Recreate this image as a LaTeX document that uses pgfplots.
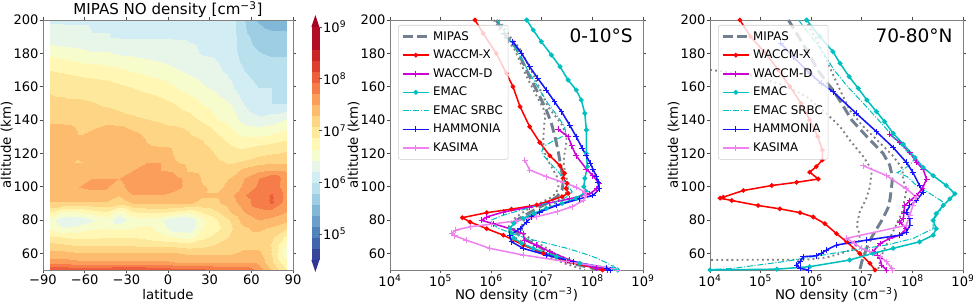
\documentclass[border=0pt]{standalone}
\usepackage{pgfplots}
\pgfplotsset{compat=1.18}
\usepackage{fontspec}
\setmainfont{DejaVu Sans}
\definecolor{mipas}{RGB}{112,128,144}
\definecolor{triTop}{RGB}{165,0,38}
\definecolor{triBot}{RGB}{49,54,149}
\definecolor{colWD}{RGB}{205,0,215}
\definecolor{colEM}{RGB}{0,191,191}
\definecolor{colHA}{RGB}{20,20,255}
\definecolor{colKA}{RGB}{238,130,238}
\pgfplotsset{
  /pgf/number format/assume math mode=true,
  colormap={rdylbu}{rgb255=(54,70,157) rgb255=(64,101,172) rgb255=(81,131,187) rgb255=(105,159,202) rgb255=(130,184,215) rgb255=(157,206,227) rgb255=(184,224,237) rgb255=(211,237,244) rgb255=(232,246,234) rgb255=(247,252,205) rgb255=(255,247,179) rgb255=(254,232,156) rgb255=(254,212,133) rgb255=(253,187,109) rgb255=(251,158,90) rgb255=(246,125,74) rgb255=(237,94,60) rgb255=(222,62,46) rgb255=(203,36,39) rgb255=(178,12,38) rgb255=(178,12,38)},
  common/.style={
    scale only axis, anchor=south west,
    tick align=outside, major tick length=2.6pt, minor tick num=0,
    tick style={black!70, line width=0.5pt},
    axis line style={black!50},
    tick label style={font=\fontsize{9.8}{11}\selectfont, inner sep=0.6pt},
    label style={font=\fontsize{9.3}{11}\selectfont},
    every axis y label/.style={at={([xshift=-22.5pt]rel axis cs:0,0.5)}, rotate=90, anchor=south, inner sep=0pt},
    every axis x label/.style={at={([yshift=-22.3pt]rel axis cs:0.5,0)}, anchor=base, inner sep=0pt},
    ymin=50, ymax=200, ytick={60,80,...,200},
  },
  lineax/.style={
    common, width=189.75pt, height=187.5pt,
    xmin=4, xmax=9, xtick={4,5,6,7,8,9},
    xticklabels={10\textsuperscript{4},10\textsuperscript{5},10\textsuperscript{6},10\textsuperscript{7},10\textsuperscript{8},10\textsuperscript{9}},
    xlabel={NO density (cm\textsuperscript{−3})}, ylabel={altitude (km)},
    legend cell align=left,
    legend style={at={(0.032,0.98)}, anchor=north west, draw=black!20, rounded corners=1.5pt,
      fill=white, fill opacity=0.8, text opacity=1, draw opacity=1,
      font=\fontsize{8.9}{10}\selectfont, inner xsep=2pt, inner ysep=2.5pt, row sep=1.8pt},
    legend image code/.code={\draw[mark repeat=2,mark phase=2,#1] plot coordinates {(0cm,0cm) (0.35cm,0cm) (0.7cm,0cm)};},
  },
  styMIPAS/.style={mipas, line width=2.2pt, dash pattern=on 7.5pt off 3.5pt},
  styMIPASdot/.style={forget plot, gray, line width=1.4pt, dash pattern=on 1.4pt off 2.4pt},
  styWACCMX/.style={color=red, line width=1.15pt, mark=*, mark size=1.1pt},
  styWACCMD/.style={color=colWD, line width=1.15pt, mark=+, mark size=2.2pt, mark options={solid, line width=0.7pt}},
  styEMAC/.style={color=colEM, line width=1.15pt, mark=*, mark size=1.2pt},
  styEMACS/.style={color=colEM, line width=0.75pt, dash pattern=on 4.5pt off 1.3pt on 0.8pt off 1.3pt},
  styHAMMONIA/.style={color=colHA, line width=1.15pt, mark=+, mark size=2.2pt, mark options={solid, line width=0.7pt}},
  styKASIMA/.style={color=colKA, line width=1.15pt, mark=+, mark size=2.2pt, mark options={solid, line width=0.7pt}},
}
\begin{document}
\begin{tikzpicture}
\path[use as bounding box] (0,0) rectangle (729.75pt,230.25pt);
% ---------------- panel 1: contour ----------------
\begin{axis}[common, at={(32.25pt,27.75pt)}, width=187.5pt, height=187.5pt,
  xmin=-90, xmax=90, xtick={-90,-60,...,90}, xticklabels={−90,−60,−30,0,30,60,90},
  axis on top,
  colormap name=rdylbu, colormap access=piecewise constant,
  point meta min=4.5, point meta max=9,
  xlabel={latitude}, ylabel={altitude (km)},
  colorbar,
  colorbar style={at={(parent axis.north east)}, anchor=north west, xshift=5.25pt, yshift=-5.25pt,
    scale only axis, width=6pt, height=174.75pt,
    ytick={5,6,7,8,9},
    yticklabels={10\textsuperscript{5},10\textsuperscript{6},10\textsuperscript{7},10\textsuperscript{8},10\textsuperscript{9}},
    ytick pos=right, tick align=outside, major tick length=2pt,
    axis line style={draw=none}, clip mode=individual,
    after end axis/.code={
      \fill[triTop] (rel axis cs:0,1) -- (rel axis cs:1,1) -- ([yshift=9pt]rel axis cs:0.5,1) -- cycle;
      \fill[triBot] (rel axis cs:0,0) -- (rel axis cs:1,0) -- ([yshift=-9pt]rel axis cs:0.5,0) -- cycle;
    }},
  clip mode=individual,
]
\addplot[surf, shader=interp, mesh/cols=18, point meta=explicit] coordinates {
(-85,200)[6.2] (-75,200)[6.2] (-65,200)[6.2] (-55,200)[6.2] (-45,200)[6.2] (-35,200)[6.2] (-25,200)[6.2] (-15,200)[6.2] (-5,200)[6.2] (5,200)[6.2] (15,200)[6.2] (25,200)[6.1] (35,200)[6.2] (45,200)[6.1] (55,200)[5.8] (65,200)[5.55] (75,200)[5.45] (85,200)[5.45]
(-85,190)[6.27] (-75,190)[6.25] (-65,190)[6.25] (-55,190)[6.22] (-45,190)[6.22] (-35,190)[6.2] (-25,190)[6.2] (-15,190)[6.2] (-5,190)[6.2] (5,190)[6.2] (15,190)[6.2] (25,190)[6.18] (35,190)[6.15] (45,190)[6.1] (55,190)[5.85] (65,190)[5.7] (75,190)[5.65] (85,190)[5.65]
(-85,180)[6.6] (-75,180)[6.55] (-65,180)[6.5] (-55,180)[6.45] (-45,180)[6.45] (-35,180)[6.4] (-25,180)[6.38] (-15,180)[6.35] (-5,180)[6.32] (5,180)[6.28] (15,180)[6.25] (25,180)[6.2] (35,180)[6.18] (45,180)[6.1] (55,180)[5.9] (65,180)[5.8] (75,180)[5.75] (85,180)[5.75]
(-85,170)[6.85] (-75,170)[6.82] (-65,170)[6.78] (-55,170)[6.75] (-45,170)[6.72] (-35,170)[6.68] (-25,170)[6.62] (-15,170)[6.57] (-5,170)[6.52] (5,170)[6.45] (15,170)[6.38] (25,170)[6.32] (35,170)[6.25] (45,170)[6.15] (55,170)[6.0] (65,170)[5.95] (75,170)[5.95] (85,170)[5.95]
(-85,160)[7.05] (-75,160)[7.03] (-65,160)[7.0] (-55,160)[6.98] (-45,160)[6.95] (-35,160)[6.9] (-25,160)[6.85] (-15,160)[6.8] (-5,160)[6.75] (5,160)[6.65] (15,160)[6.55] (25,160)[6.45] (35,160)[6.37] (45,160)[6.25] (55,160)[6.05] (65,160)[6.0] (75,160)[6.0] (85,160)[6.0]
(-85,150)[7.1] (-75,150)[7.1] (-65,150)[7.1] (-55,150)[7.08] (-45,150)[7.05] (-35,150)[7.03] (-25,150)[7.0] (-15,150)[6.97] (-5,150)[6.92] (5,150)[6.85] (15,150)[6.75] (25,150)[6.62] (35,150)[6.52] (45,150)[6.42] (55,150)[6.2] (65,150)[6.05] (75,150)[6.0] (85,150)[6.0]
(-85,140)[7.15] (-75,140)[7.15] (-65,140)[7.15] (-55,140)[7.15] (-45,140)[7.15] (-35,140)[7.12] (-25,140)[7.1] (-15,140)[7.08] (-5,140)[7.05] (5,140)[7.0] (15,140)[6.95] (25,140)[6.82] (35,140)[6.65] (45,140)[6.55] (55,140)[6.35] (65,140)[6.28] (75,140)[6.35] (85,140)[6.45]
(-85,135)[7.45] (-75,135)[7.42] (-65,135)[7.25] (-55,135)[7.25] (-45,135)[7.4] (-35,135)[7.35] (-25,135)[7.25] (-15,135)[7.15] (-5,135)[7.12] (5,135)[7.1] (15,135)[7.05] (25,135)[6.95] (35,135)[6.8] (45,135)[6.65] (55,135)[6.5] (65,135)[6.45] (75,135)[6.5] (85,135)[6.6]
(-85,130)[7.5] (-75,130)[7.5] (-65,130)[7.3] (-55,130)[7.45] (-45,130)[7.5] (-35,130)[7.5] (-25,130)[7.4] (-15,130)[7.25] (-5,130)[7.2] (5,130)[7.15] (15,130)[7.1] (25,130)[7.05] (35,130)[6.9] (45,130)[6.75] (55,130)[6.65] (65,130)[6.65] (75,130)[6.72] (85,130)[6.8]
(-85,125)[7.5] (-75,125)[7.5] (-65,125)[7.3] (-55,125)[7.45] (-45,125)[7.5] (-35,125)[7.5] (-25,125)[7.45] (-15,125)[7.3] (-5,125)[7.25] (5,125)[7.2] (15,125)[7.15] (25,125)[7.1] (35,125)[7.0] (45,125)[6.85] (55,125)[6.8] (65,125)[6.85] (75,125)[6.9] (85,125)[6.95]
(-85,120)[7.45] (-75,120)[7.5] (-65,120)[7.3] (-55,120)[7.35] (-45,120)[7.45] (-35,120)[7.5] (-25,120)[7.5] (-15,120)[7.45] (-5,120)[7.5] (5,120)[7.25] (15,120)[7.2] (25,120)[7.15] (35,120)[7.05] (45,120)[6.95] (55,120)[6.95] (65,120)[7.0] (75,120)[7.05] (85,120)[7.1]
(-85,115)[7.3] (-75,115)[7.3] (-65,115)[7.28] (-55,115)[7.3] (-45,115)[7.35] (-35,115)[7.45] (-25,115)[7.5] (-15,115)[7.5] (-5,115)[7.5] (5,115)[7.3] (15,115)[7.22] (25,115)[7.2] (35,115)[7.1] (45,115)[7.05] (55,115)[7.1] (65,115)[7.2] (75,115)[7.25] (85,115)[7.25]
(-85,110)[7.38] (-75,110)[7.38] (-65,110)[7.38] (-55,110)[7.38] (-45,110)[7.38] (-35,110)[7.4] (-25,110)[7.5] (-15,110)[7.55] (-5,110)[7.5] (5,110)[7.45] (15,110)[7.25] (25,110)[7.2] (35,110)[7.15] (45,110)[7.15] (55,110)[7.35] (65,110)[7.45] (75,110)[7.5] (85,110)[7.45]
(-85,105)[7.5] (-75,105)[7.5] (-65,105)[7.5] (-55,105)[7.5] (-45,105)[7.5] (-35,105)[7.5] (-25,105)[7.7] (-15,105)[7.7] (-5,105)[7.7] (5,105)[7.55] (15,105)[7.45] (25,105)[7.25] (35,105)[7.2] (45,105)[7.3] (55,105)[7.5] (65,105)[7.7] (75,105)[7.9] (85,105)[7.6]
(-85,100)[7.5] (-75,100)[7.5] (-65,100)[7.5] (-55,100)[7.52] (-45,100)[7.52] (-35,100)[7.4] (-25,100)[7.65] (-15,100)[7.7] (-5,100)[7.7] (5,100)[7.55] (15,100)[7.45] (25,100)[7.3] (35,100)[7.25] (45,100)[7.35] (55,100)[7.55] (65,100)[7.75] (75,100)[7.85] (85,100)[7.6]
(-85,95)[7.45] (-75,95)[7.45] (-65,95)[7.45] (-55,95)[7.45] (-45,95)[7.45] (-35,95)[7.3] (-25,95)[7.5] (-15,95)[7.5] (-5,95)[7.5] (5,95)[7.45] (15,95)[7.4] (25,95)[7.3] (35,95)[7.3] (45,95)[7.45] (55,95)[7.7] (65,95)[7.85] (75,95)[7.95] (85,95)[7.65]
(-85,90)[7.25] (-75,90)[7.25] (-65,90)[7.25] (-55,90)[7.25] (-45,90)[7.25] (-35,90)[7.15] (-25,90)[7.3] (-15,90)[7.3] (-5,90)[7.3] (5,90)[7.3] (15,90)[7.3] (25,90)[7.25] (35,90)[7.25] (45,90)[7.4] (55,90)[7.6] (65,90)[7.85] (75,90)[7.95] (85,90)[7.6]
(-85,85)[6.85] (-75,85)[6.6] (-65,85)[6.65] (-55,85)[6.75] (-45,85)[6.85] (-35,85)[6.5] (-25,85)[6.85] (-15,85)[6.9] (-5,85)[6.9] (5,85)[6.8] (15,85)[6.7] (25,85)[6.9] (35,85)[7.05] (45,85)[7.3] (55,85)[7.5] (65,85)[7.6] (75,85)[7.6] (85,85)[7.5]
(-85,80)[6.55] (-75,80)[6.25] (-65,80)[6.25] (-55,80)[6.4] (-45,80)[6.55] (-35,80)[6.28] (-25,80)[6.5] (-15,80)[6.55] (-5,80)[6.45] (5,80)[6.22] (15,80)[6.25] (25,80)[6.6] (35,80)[6.85] (45,80)[7.1] (55,80)[7.4] (65,80)[7.5] (75,80)[7.45] (85,80)[7.35]
(-85,75)[6.6] (-75,75)[6.45] (-65,75)[6.5] (-55,75)[6.6] (-45,75)[6.65] (-35,75)[6.6] (-25,75)[6.65] (-15,75)[6.7] (-5,75)[6.55] (5,75)[6.28] (15,75)[6.28] (25,75)[6.65] (35,75)[6.8] (45,75)[7.05] (55,75)[7.25] (65,75)[7.35] (75,75)[7.25] (85,75)[7.1]
(-85,70)[6.9] (-75,70)[6.85] (-65,70)[6.8] (-55,70)[6.8] (-45,70)[6.85] (-35,70)[6.85] (-25,70)[6.85] (-15,70)[6.8] (-5,70)[6.75] (5,70)[6.65] (15,70)[6.55] (25,70)[6.8] (35,70)[6.95] (45,70)[7.1] (55,70)[7.2] (65,70)[7.2] (75,70)[7.1] (85,70)[6.8]
(-85,65)[7.15] (-75,65)[7.1] (-65,65)[7.05] (-55,65)[7.05] (-45,65)[7.05] (-35,65)[7.05] (-25,65)[7.05] (-15,65)[7.0] (-5,65)[7.0] (5,65)[7.0] (15,65)[6.95] (25,65)[7.0] (35,65)[7.1] (45,65)[7.15] (55,65)[7.2] (65,65)[7.2] (75,65)[7.05] (85,65)[6.6]
(-85,60)[7.35] (-75,60)[7.35] (-65,60)[7.3] (-55,60)[7.3] (-45,60)[7.3] (-35,60)[7.3] (-25,60)[7.3] (-15,60)[7.3] (-5,60)[7.3] (5,60)[7.3] (15,60)[7.25] (25,60)[7.25] (35,60)[7.25] (45,60)[7.25] (55,60)[7.35] (65,60)[7.35] (75,60)[7.05] (85,60)[6.5]
(-85,55)[7.6] (-75,55)[7.6] (-65,55)[7.55] (-55,55)[7.55] (-45,55)[7.55] (-35,55)[7.55] (-25,55)[7.55] (-15,55)[7.55] (-5,55)[7.55] (5,55)[7.5] (15,55)[7.5] (25,55)[7.5] (35,55)[7.45] (45,55)[7.45] (55,55)[7.5] (65,55)[7.45] (75,55)[7.1] (85,55)[6.7]
(-85,50)[8.15] (-75,50)[8.15] (-65,50)[8.1] (-55,50)[8.15] (-45,50)[8.15] (-35,50)[8.2] (-25,50)[8.2] (-15,50)[8.15] (-5,50)[8.1] (5,50)[8.05] (15,50)[8.05] (25,50)[8.0] (35,50)[7.95] (45,50)[7.9] (55,50)[7.9] (65,50)[7.65] (75,50)[7.25] (85,50)[6.9]
};
\node[anchor=base, inner sep=0pt, font=\fontsize{11.3}{13}\selectfont] at ([yshift=3.9pt]rel axis cs:0.5,1) {MIPAS NO density [cm\textsuperscript{−3}]};
\end{axis}
% ---------------- panel 2: 0-10S ----------------
\begin{axis}[lineax, at={(292.5pt,27.75pt)}]
\addplot[styMIPASdot] coordinates {(6.15,200) (6.37,190) (6.56,183) (6.7,175) (6.85,166) (7.0,156) (7.12,148) (7.3,141) (7.4,137) (7.49,130) (7.48,125) (7.45,120) (7.43,115) (7.46,108) (7.52,102) (7.52,98) (7.42,94) (7.25,90) (7.0,86) (6.75,82) (6.62,79) (6.6,76) (6.62,73) (6.72,70) (6.85,67) (7.05,64) (7.25,60) (7.55,56) (7.85,53) (8.25,50)};
\addplot[styMIPASdot] coordinates {(6.05,200) (6.25,190) (6.45,183) (6.57,175) (6.7,166) (6.87,156) (7.03,147) (7.07,142) (7.05,138) (7.03,130) (7.03,125) (7.08,118) (7.19,112) (7.3,106) (7.33,100) (7.28,96) (7.15,93) (6.95,90) (6.7,86) (6.5,82) (6.4,79) (6.35,76) (6.35,73) (6.45,70) (6.6,67) (6.75,64) (7.0,60) (7.2,57) (7.45,54) (7.85,50)};
\addplot[styMIPAS] coordinates {(6.1,200) (6.3,190) (6.5,183) (6.62,175) (6.76,166) (6.93,156) (7.09,146) (7.19,138) (7.26,130) (7.32,122) (7.36,115) (7.40,108) (7.42,102) (7.40,98) (7.3,94) (7.1,90) (6.85,86) (6.62,82) (6.5,80) (6.45,77) (6.45,74) (6.55,71) (6.7,68) (6.89,65) (7.1,61) (7.36,57) (7.6,54) (8.0,51) (8.1,50)};
\addlegendentry{MIPAS}
\addplot[styWACCMX] coordinates {(5.68,200) (5.84,192) (6.1,180) (6.3,168) (6.43,160) (6.57,148) (6.76,136) (6.96,126.5) (7.16,118.5) (7.36,112.6) (7.45,108) (7.42,105) (7.5,102) (7.48,99) (7.52,96) (7.4,94) (6.9,89) (6.4,86.5) (5.91,84.4) (5.43,81.4) (5.58,78.8) (5.91,74.8) (6.24,70.9) (6.63,65) (7.03,60) (7.49,55) (8.08,51) (8.2,50)};
\addlegendentry{WACCM-X}
\addplot[styWACCMD] coordinates {(7.32,134.4) (7.52,130) (7.59,124.5) (7.68,118.5) (7.88,110.6) (8.01,106.6) (8.14,101.7) (8.08,98.7) (7.95,95.7) (7.55,92.7) (7.16,90.3) (6.76,87.7) (6.24,84.8) (5.91,81.8) (5.81,79.8) (6.04,77.8) (6.37,74.8) (6.63,71.8) (6.66,67.9) (6.89,65) (7.16,61) (7.55,56) (8.08,51) (8.3,50)};
\addlegendentry{WACCM-D}
\addplot[styEMAC] coordinates {(6.70,200) (6.83,194) (6.99,187) (7.19,179) (7.36,172) (7.52,164) (7.68,158) (7.78,152) (7.85,144) (7.88,134) (7.88,120) (7.9,112) (7.85,105) (7.83,100) (7.88,97) (7.68,93) (7.4,90) (7.09,87) (6.85,84) (6.63,81) (6.45,78) (6.37,75) (6.4,72) (6.45,69) (6.6,66) (6.83,63) (7.29,58) (7.75,54) (8.41,51) (8.5,50)};
\addlegendentry{EMAC}
\addplot[styEMACS] coordinates {(6.12,200) (6.32,190) (6.52,181) (6.72,170) (6.92,160) (7.12,150) (7.32,142) (7.45,136) (7.47,133) (7.4,130) (7.2,127) (7.03,124) (7.0,121) (7.05,118) (7.2,113) (7.35,108) (7.45,103) (7.55,99) (7.6,97) (7.5,94) (7.3,91) (6.96,89) (6.6,86) (6.25,83) (6.0,80) (6.0,78) (6.15,75) (6.4,72) (6.7,69) (7.1,66) (7.5,63) (7.82,60) (8.1,57) (8.3,54) (8.54,50)};
\addlegendentry{EMAC SRBC}
\addplot[styHAMMONIA] coordinates {(6.43,187) (6.6,180) (6.76,172) (6.92,165) (7.09,158) (7.25,151) (7.39,145) (7.55,137) (7.68,130) (7.8,123) (7.88,118.5) (7.96,114) (8.01,110.6) (8.08,106) (8.11,102.6) (8.14,98.7) (8.01,94.7) (7.75,92.7) (7.29,88.7) (6.96,84.8) (6.8,82) (6.7,78.8) (6.57,74.8) (6.37,70.9) (6.4,67) (6.63,63) (7.09,59) (7.62,55) (8.28,51) (8.35,50)};
\addlegendentry{HAMMONIA}
\addplot[styKASIMA] coordinates {(6.66,116) (6.76,110) (7.09,106) (7.42,102.6) (7.68,99.7) (7.85,96.7) (7.88,94.7) (7.82,91.7) (7.6,88) (7.3,85) (6.9,82) (6.5,79.5) (6.0,77.5) (5.6,76) (5.3,74) (5.22,72) (5.28,70.5) (5.51,67.9) (5.97,63) (6.63,59) (7.49,55) (8.41,51) (8.5,50)};
\addlegendentry{KASIMA}
\node[anchor=north east, inner sep=0pt, font=\fontsize{13.9}{16}\selectfont] at (rel axis cs:0.96,0.968) {0-10°S};
\end{axis}
% ---------------- panel 3: 70-80N ----------------
\begin{axis}[lineax, at={(532.5pt,27.75pt)}]
\addplot[styMIPASdot] coordinates {(5.88,200) (6.11,188) (6.3,176) (6.45,166) (6.6,156) (6.76,146) (7.0,137) (7.3,128) (7.6,119) (7.8,111) (7.82,104) (7.88,98) (7.85,93) (7.8,85) (7.68,77) (7.55,69) (7.42,61) (7.36,55) (7.32,50)};
\addplot[styMIPASdot] coordinates {(3.0,170.5) (4.03,170) (4.79,167) (5.45,161) (5.91,154) (6.3,144) (6.57,136) (6.76,128) (7.03,118) (7.2,110) (7.16,100) (7.09,93) (6.96,85) (6.9,77) (6.95,72) (6.96,68) (6.85,63) (6.6,60) (6.3,57.5) (5.9,56.2) (3.0,56)};
\addplot[styMIPAS] coordinates {(5.55,200) (5.75,190) (5.95,180) (6.13,170) (6.32,162) (6.43,158) (6.6,150) (6.8,140) (7.1,130) (7.42,120) (7.55,113) (7.59,108) (7.6,103) (7.58,98) (7.56,93) (7.53,88) (7.45,83) (7.38,79) (7.3,75) (7.2,70) (7.12,65) (7.06,60) (7.0,55) (6.96,50)};
\addlegendentry{MIPAS}
\addplot[styWACCMX] coordinates {(4.59,200) (4.8,190) (5.1,180) (5.35,170) (5.58,160) (5.8,150) (5.97,140) (6.13,130) (6.22,122) (6.22,116) (6.1,112) (5.97,108.7) (6.14,104.6) (5.71,102.6) (5.22,100.7) (4.66,97.7) (4.26,93.7) (4.2,93.1) (4.43,91.7) (4.95,88.7) (5.38,86.7) (5.78,84.4) (6.04,81.8) (6.27,77.8) (6.5,71.8) (6.7,66.9) (6.96,59.9) (7.16,54) (7.26,50)};
\addlegendentry{WACCM-X}
\addplot[styWACCMD] coordinates {(7.55,131.5) (7.75,126.5) (7.95,120.5) (8.08,114.6) (8.21,110.6) (8.28,104.6) (8.2,99) (8.08,94.7) (7.95,91.5) (7.85,88.7) (7.83,84) (7.82,80.8) (7.75,78.8) (7.88,74.8) (7.75,70.9) (7.55,68.9) (7.36,65.9) (7.22,61) (7.3,59) (7.36,57) (7.39,53) (7.49,50)};
\addlegendentry{WACCM-D}
\addplot[styEMAC] coordinates {(5.91,200) (6.17,190) (6.43,181) (6.57,174) (6.75,166) (6.93,159) (7.1,152) (7.29,145) (7.45,139) (7.62,132) (7.82,125.5) (8.05,117.5) (8.21,111.6) (8.41,106.6) (8.67,100.7) (8.84,95.7) (8.74,92.7) (8.61,88.7) (8.47,83.8) (8.41,79.8) (8.47,74.8) (8.41,70.9) (8.14,66.9) (7.62,63) (7.22,60) (6.76,56) (5.97,52) (5.32,50.5) (4.0,50)};
\addlegendentry{EMAC}
\addplot[styEMACS] coordinates {(5.75,200) (6.0,190) (6.25,180) (6.45,170) (6.72,160) (7.0,151) (7.3,141) (7.62,130) (7.9,121) (8.05,117) (7.95,113) (7.8,110) (7.7,108.5) (7.9,106) (8.08,100.7) (8.41,94.7) (8.61,90.7) (8.54,85) (8.41,80) (8.41,74.8) (8.01,68.9) (7.49,65) (6.43,60) (5.45,55) (4.46,51) (4.0,50.3)};
\addlegendentry{EMAC SRBC}
\addplot[styHAMMONIA] coordinates {(5.4,186) (5.64,178) (5.97,168) (6.2,162) (6.43,157) (6.89,144) (7.29,133) (7.62,123.5) (7.88,114.6) (8.01,108.6) (8.14,100.7) (8.21,96.7) (8.08,91.7) (7.95,88.7) (7.88,84.8) (7.95,80.8) (7.95,76.8) (7.88,72.8) (7.75,70.9) (7.09,67.9) (6.5,65) (6.3,62) (6.2,60) (6.1,58.5) (5.84,58) (5.78,55) (5.71,53) (5.78,51) (5.95,50)};
\addlegendentry{HAMMONIA}
\addplot[styKASIMA] coordinates {(7.03,112.6) (7.49,106.6) (7.88,98.7) (8.08,93.7) (8.01,88.7) (7.95,82.8) (7.88,76.8) (6.7,69) (6.85,66) (7.0,63) (7.16,61) (7.36,58) (7.49,55) (7.59,51) (7.6,50)};
\addlegendentry{KASIMA}
\node[anchor=north east, inner sep=0pt, font=\fontsize{13.9}{16}\selectfont] at (rel axis cs:0.96,0.968) {70-80°N};
\end{axis}
\end{tikzpicture}
\end{document}
